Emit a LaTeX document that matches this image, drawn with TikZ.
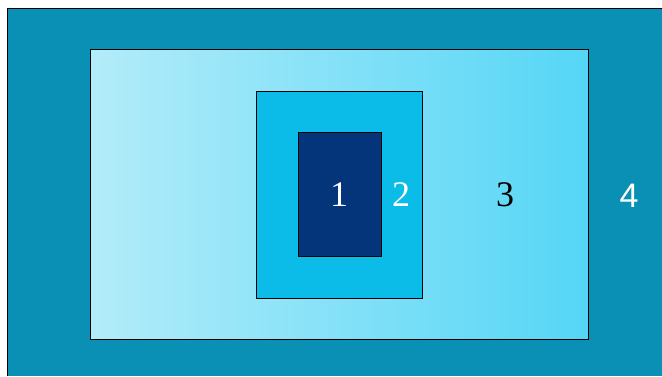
\documentclass[tikz,border=0pt]{standalone}
\usepackage{fontspec}
\setmainfont{Liberation Serif}
\newfontfamily\sansdigits{Liberation Sans}
\definecolor{outerc}{HTML}{0990B4}
\definecolor{lightl}{HTML}{B3ECF9}
\definecolor{lightr}{HTML}{55D6F6}
\definecolor{midc}{HTML}{0BBCE8}
\definecolor{darkc}{HTML}{04357A}
\tikzset{
  frame/.style={draw=black, line width=0.9pt},
  lbl/.style={inner sep=0pt, font=\fontsize{36}{36}\selectfont},
}
\begin{document}
\begin{tikzpicture}[x=1pt,y=-1pt]
\useasboundingbox (0,0) rectangle (662,376);
\fill[white] (0,0) rectangle (662,376);
% outer region 4
\fill[outerc] (7,8) rectangle (662,376);
\draw[line width=1pt] (7,376) -- (7,8) -- (662,8);
% region 3
\shade[left color=lightl, right color=lightr] (90,49) rectangle (588,339);
\draw[frame] (90,49) rectangle (588,339);
% region 2
\fill[midc] (256,91) rectangle (422,298);
\draw[frame] (256,91) rectangle (422,298);
% region 1
\fill[darkc] (298,132) rectangle (381,256);
\draw[frame] (298,132) rectangle (381,256);
% labels
\node[lbl, text=white] (l1) at (339,195) {1};
\node[lbl, text=white] (l2) at (401,195) {2};
\node[lbl, text=black] (l3) at (505,195) {3};
\node[inner sep=0pt, text=white, font=\sansdigits\fontsize{34}{34}\selectfont] (l4) at (629,196) {4};
\end{tikzpicture}
\end{document}
